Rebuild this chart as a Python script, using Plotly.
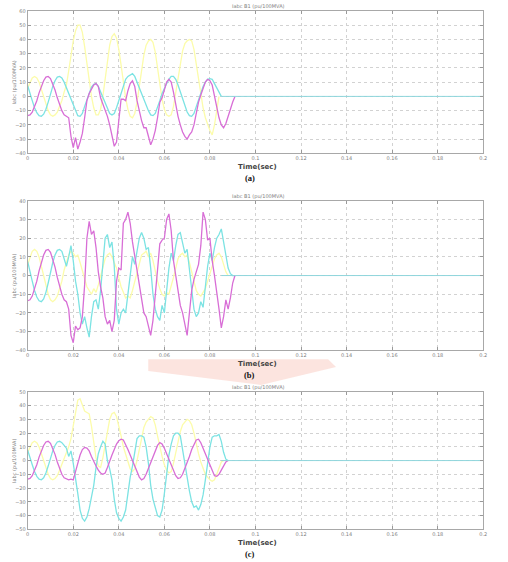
import plotly.graph_objects as go

W, H = 508, 562

# time samples (ms) common to all recorded waveforms
time_ms = list(range(92))
time_s = [m / 1000 for m in time_ms]

# ---------------- panel (a) ----------------
a_yellow = [6, 10, 13, 14, 13, 10, 5, 0, -5, -10, -13, -14, -13, -11, -7, -3, 3, 8, 18, 29,
            39, 46, 50, 50, 45, 35, 22, 10, 0, -8, -13, -13, -9, 0, 12, 25, 36, 42, 44, 41,
            33, 22, 10, -1, -9, -14, -15, -12, -4, 7, 19, 29, 36, 39, 40, 38, 31, 20, 8, -2,
            -9, -13, -14, -13, -7, 3, 14, 24, 32, 37, 39, 40, 39, 33, 23, 11, 0, -8, -15, -20,
            -24, -27, -20, -10, 0, None, None, None, None, None, None, None]
a_cyan = [7.5, 3, -3, -8, -11.5, -13.5, -14, -12.5, -9, -4, 2, 7, 11, 13.5, 14, 13, 10, 6, 2, -2,
          -6, -10, -13.5, -14, -12, -7, -2, 3, 6.5, 8.5, 9, 7, 3, -1, -5, -9, -12, -13, -12, -8,
          -3, 3, 8, 12, 14, 15, 16, 14, 10, 5, 1, -3, -7, -10, -13, -13.5, -12, -8, -3, 2,
          6, 9, 12, 14, 14, 12, 8, 3, -2, -7, -11, -13.5, -14, -12, -7, -2, 3, 7, 10, 12,
          12.5, 12, 9, 6, 2, 0, None, None, None, None, None, None]
a_magenta = [-13.5, -13, -11, -7.5, -3, 2.5, 7.5, 11, 13.5, 14, 12.5, 9, 4.5, -1, -6, -10, -13, -14, -15, -28,
             -36, -29, -37, -32, -26, -15, -3, 2, 5, 8, 9, 7, -1, -5, -9, -14, -20, -27, -35, -32,
             -15, -2, -2, -3, 4, 9, 11, 7, -3, -11, -17, -22, -22, -28, -34, -30, -24, -15, -4, -1,
             5, 10, 12, 10, 3, -6, -14, -20, -25, -28, -30, -27, -25, -20, -12, -4, 1, 5, 10, 12,
             11, 8, 0, -7, -15, -20, -22, -19, -13, -9, -4, 0]

# ---------------- panel (b) ----------------
b_yellow = [6, 10, 13, 14, 13, 10, 5, 0, -5, -10, -13, -14, -13, -11, -7, -3, 3, 7, 11, 13,
            12, 10, 11, 7, 3, -2, -6, -8, -10, -7, -9, -5, 0, 5, 9, 11, 12, 10, 7, 4,
            -1, -6, -9, -12, -11, -12, -8, -3, 2, 7, 11, 12, 13, 10, 12, 8, 2, -3, -7, -10,
            -11, -9, -10, -6, -1, 4, 9, 11, 12, 10, 11, 7, 2, -3, -8, -10, -11, -9, -7, -3,
            1, 5, 9, 11, 12, 10, 6, 2, 0, None, None, None]
b_cyan = [7.5, 3, -3, -8, -11.5, -13.5, -14, -12.5, -9, -4, 2, 7, 11, 13.5, 14, 13, 9, 5, 10, 16,
          8, -3, -10, -20, -26, -22, -28, -33, -22, -14, -13, -18, -8, 8, 20, 22, 15, 18, 5, -18,
          -26, -20, -18, -20, -10, 2, 10, 6, 14, 20, 23, 20, 14, 15, 4, -10, -18, -22, -24, -16,
          -20, -8, 4, 12, 8, 16, 22, 23, 18, 12, 14, 4, -8, -18, -22, -20, -14, -17, -6, 5,
          12, 8, 15, 20, 22, 25, 18, 10, 4, 1, 0, 0]
b_magenta = [-13.5, -13, -11, -7.5, -3, 2.5, 7.5, 11, 13.5, 14, 12.5, 9, 4.5, -1, -6, -10, -13, -14, -18, -32,
             -36, -27, -29, -28, -22, -5, 20, 29, 22, 24, 15, 2, -6, -12, -22, -26, -24, -30, -24, -3,
             4, 3, 28, 30, 34, 28, 18, 10, 4, -5, -14, -20, -22, -27, -32, -24, -12, 3, 17, 19,
             20, 30, 33, 24, 8, 0, -8, -16, -20, -26, -32, -20, -8, -2, 2, 6, 16, 34, 30, 19,
             20, 8, 0, -8, -18, -28, -22, -13, -18, -12, -4, 0]

# ---------------- panel (c) ----------------
c_yellow = [6, 10, 13, 14, 13, 10, 5, 0, -5, -10, -13, -14, -13, -11, -7, -3, 2, 6, 10, 16,
            26, 36, 44, 45, 40, 36, 35, 34, 25, 12, 2, -4, -5, 2, 12, 22, 30, 34, 35, 32,
            26, 18, 10, 4, -2, -6, -8, -6, 0, 8, 16, 24, 28, 30, 32, 31, 26, 18, 10, 3,
            -3, -7, -9, -8, -2, 6, 14, 21, 26, 28, 30, 29, 26, 20, 12, 5, -1, -6, -10, -12,
            -14, -15, -14, -10, -5, -1, 0, None, None, None, None, None]
c_cyan = [7.5, 3, -3, -8, -11.5, -13.5, -14, -12.5, -9, -4, 2, 7, 11, 13.5, 14, 13, 11, 9, 3, 7,
          -2, -12, -24, -36, -42, -44, -41, -35, -26, -18, -5, 5, 10, 14, 12, 0, -6, -14, -28, -38,
          -42, -44, -41, -36, -24, -12, -4, 8, 16, 18, 18, 17, 10, -2, -18, -28, -34, -40, -41, -36,
          -24, -8, 4, 12, 18, 20, 20, 18, 8, -4, -14, -22, -30, -34, -33, -36, -32, -25, -14, 0,
          10, 17, 18, 18, 19, 14, 6, 1, 0, None, None, None]
c_magenta = [-13.5, -13, -11, -7.5, -3, 2.5, 7.5, 11, 13.5, 14, 12.5, 9, 4.5, -1, -6, -10, -12.5, -13.5, -14, -13.5,
             -14, -8, -1, 4, 8, 9.5, 9, 7, 3, -1, -4, -7, -9, -10, -9, -5, 0, 4, 8, 12,
             14.5, 15.5, 15, 12, 8, 4, 0, -4, -8, -12, -14, -13, -10, -6, -2, 3, 7, 11, 13, 12,
             9, 5, 1, -3, -7, -11, -13, -12.5, -10, -6, -2, 3, 8, 12, 15, 15.5, 13, 9, 5, 1,
             -4, -8, -11, -11.5, -10, -7, -4, -1, 0, None, None, None]

# flat (post-trip) current
tail_t = [0.085, 0.2]
tail_v = [0, 0]

# axis ticks
x_ticks = [0, 0.02, 0.04, 0.06, 0.08, 0.1, 0.12, 0.14, 0.16, 0.18, 0.2]
x_ticklabels = ["0", "0.02", "0.04", "0.06", "0.08", "0.1", "0.12", "0.14", "0.16", "0.18", "0.2"]
y_ranges = [[-40, 60], [-40, 40], [-50, 50]]
panel_letters = ["(a)", "(b)", "(c)"]
title_text = "Iabc B1 (pu/100MVA)"
ylabel_text = "Iabc (pu/100MVA)"
xlabel_text = "Time(sec)"

YELLOW = "#fcfcaa"
CYAN = "#7ce3e3"
MAGENTA = "#d86ed6"

# pixel layout of each panel: (top, bottom)
panels_px = [(8, 152), (200, 351), (393, 532)]
x_left, x_right = 26, 487


def px_x(x):
    return x / W


def px_y(y):
    return 1 - y / H


fig = go.Figure()
series = [(a_yellow, a_cyan, a_magenta), (b_yellow, b_cyan, b_magenta), (c_yellow, c_cyan, c_magenta)]

for i, (yel, cya, mag) in enumerate(series):
    n = "" if i == 0 else str(i + 1)
    xa, ya = "x" + n, "y" + n
    for vals, col, w in ((yel, YELLOW, 1.3), (cya, CYAN, 1.3), (mag, MAGENTA, 1.3)):
        fig.add_trace(go.Scatter(x=time_s, y=vals, mode="lines", xaxis=xa, yaxis=ya,
                                 line=dict(color=col, width=w), connectgaps=False,
                                 showlegend=False, hoverinfo="skip"))
    fig.add_trace(go.Scatter(x=tail_t, y=tail_v, mode="lines", xaxis=xa, yaxis=ya,
                             line=dict(color="#8fd6dc", width=1), showlegend=False, hoverinfo="skip"))

    top, bot = panels_px[i]
    axis_common = dict(showline=True, linecolor="#a8a8a8", linewidth=1, mirror="ticks",
                       ticks="inside", ticklen=3, tickcolor="#999999",
                       showgrid=True, gridcolor="#d2d2d2", griddash="dot", gridwidth=1,
                       zeroline=False, ticklabeloverflow="allow",
                       tickfont=dict(size=5, color="#808080", family="DejaVu Sans"))
    fig.update_layout(**{
        "xaxis" + n: dict(domain=[px_x(x_left), px_x(x_right)], range=[0, 0.2], anchor=ya,
                          tickvals=x_ticks, ticktext=x_ticklabels, **axis_common),
        "yaxis" + n: dict(domain=[px_y(bot), px_y(top)], range=y_ranges[i], anchor=xa,
                          dtick=10, **axis_common),
    })
    dx, dy = xa + " domain", ya + " domain"
    # panel title
    fig.add_annotation(text=title_text, x=0.506, y=1, xref=dx, yref=dy, yanchor="bottom",
                       yshift=0, showarrow=False, borderpad=0,
                       font=dict(size=5, color="#808080", family="DejaVu Sans"))
    # y label
    fig.add_annotation(text=ylabel_text, x=px_x(7), y=0.5, xref="paper", yref=dy,
                       showarrow=False, textangle=-90,
                       font=dict(size=5, color="#808080", family="DejaVu Sans"))
    # x label
    fig.add_annotation(text="<b>" + xlabel_text + "</b>", x=0.505, y=0, xref=dx, yref=dy,
                       yanchor="top", yshift=-9, showarrow=False, borderpad=0,
                       font=dict(size=7, color="#444444", family="DejaVu Sans"))
    # panel letter
    fig.add_annotation(text="<b>" + panel_letters[i] + "</b>", x=0.487, y=0, xref=dx, yref=dy,
                       yanchor="top", yshift=-19, showarrow=False, borderpad=0,
                       font=dict(size=8.5, color="#111111", family="Liberation Serif"))

# faint watermark strokes
fig.add_shape(type="path", xref="paper", yref="paper", layer="below",
              path="M {} {} L {} {} L {} {} L {} {} L {} {} Z".format(
                  px_x(148), px_y(360), px_x(330), px_y(360), px_x(338), px_y(368),
                  px_x(262), px_y(386), px_x(148), px_y(372)),
              fillcolor="rgba(248,196,184,0.45)", line=dict(width=0))

fig.update_layout(width=W, height=H, margin=dict(l=0, r=0, t=0, b=0),
                  paper_bgcolor="white", plot_bgcolor="rgba(0,0,0,0)")

fig.write_html("out.html")
